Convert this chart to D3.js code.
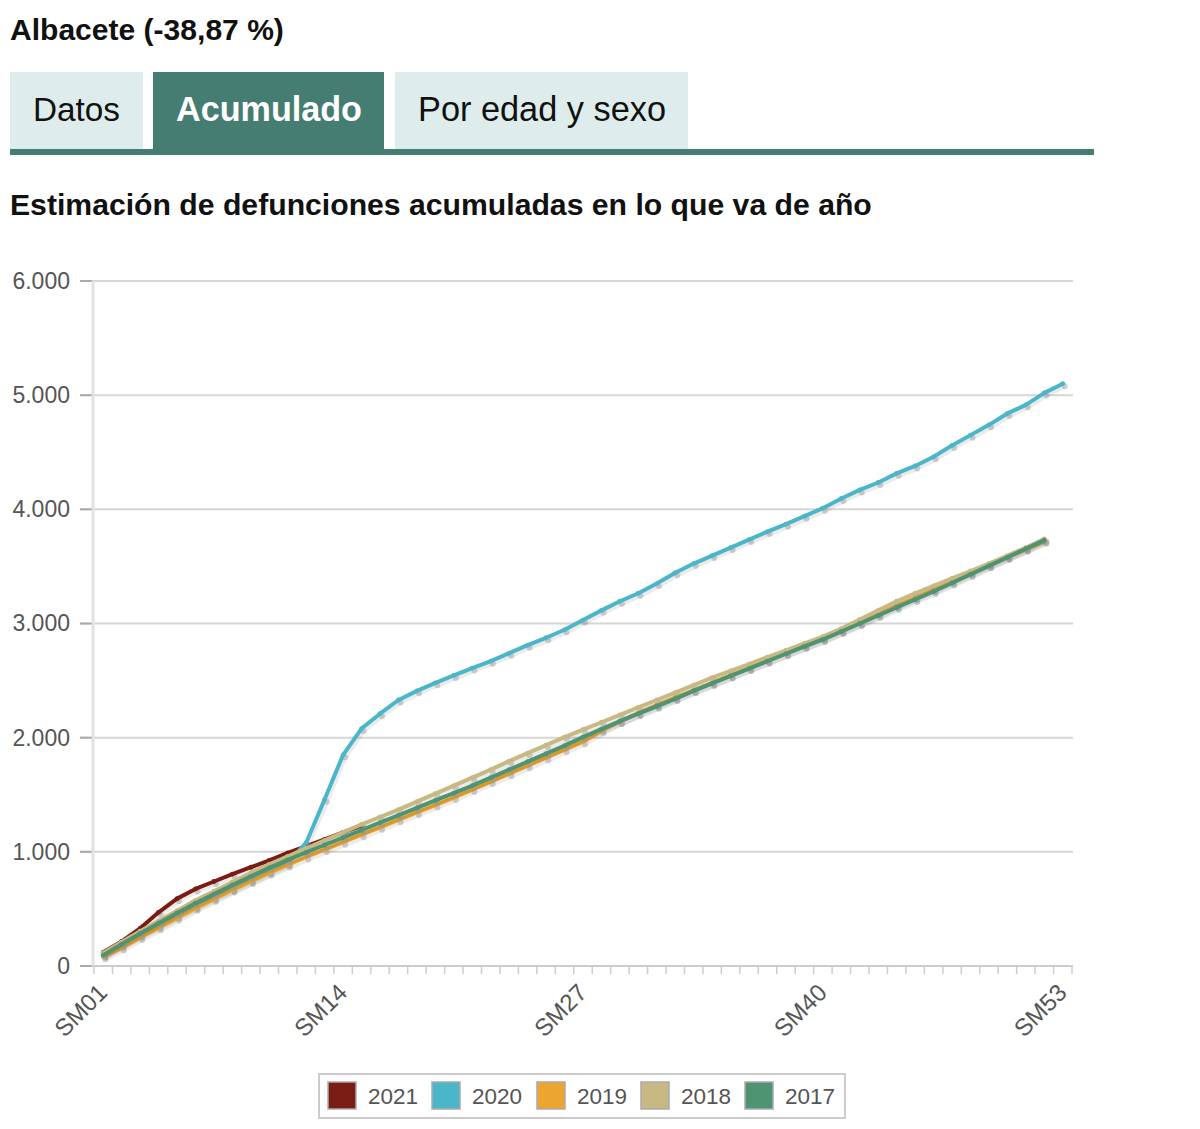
<!DOCTYPE html>
<html><head><meta charset="utf-8">
<script src="https://cdn.jsdelivr.net/npm/d3@7"></script>
<style>body{margin:0;background:#fff}svg{display:block}</style>
</head><body>
<svg id="c" width="1200" height="1129"></svg>
<script>
// ---------- data ----------
const weeks = d3.range(1, 54).map(i => "SM" + String(i).padStart(2, "0"));
const xTickLabels = ["SM01", "SM14", "SM27", "SM40", "SM53"];
const yTickValues = [0, 1000, 2000, 3000, 4000, 5000, 6000];
const years = ["2021", "2020", "2019", "2018", "2017"];
const yearColors = ["#7a1c14", "#4bb6c9", "#eca531", "#c8b882", "#4f9472"];

const values2021 = [120, 215, 330, 470, 590, 675, 740, 805, 865, 925, 990, 1050, 1110, 1170, 1230];
const values2020 = [100, 185, 270, 355, 440, 520, 600, 675, 750, 825, 900, 1080, 1460, 1850, 2080, 2210, 2330, 2410, 2480, 2545,
  2610, 2670, 2740, 2810, 2875, 2945, 3030, 3115, 3195, 3265, 3350, 3445, 3525, 3595, 3665, 3735, 3805, 3870, 3940, 4010,
  4095, 4170, 4235, 4315, 4380, 4460, 4560, 4650, 4740, 4840, 4915, 5020, 5100];
const values2019 = [80, 160, 250, 335, 420, 505, 585, 665, 740, 815, 885, 955, 1020, 1085, 1150, 1215, 1280, 1345, 1410, 1475,
  1545, 1615, 1685, 1755, 1825, 1895, 1965, 2060, 2140, 2215, 2285, 2350, 2415, 2480, 2545, 2610, 2675, 2740, 2800, 2865,
  2935, 3005, 3080, 3155, 3225, 3295, 3365, 3440, 3510, 3580, 3650, 3720];
const values2018 = [115, 210, 305, 395, 485, 575, 655, 735, 815, 890, 960, 1030, 1100, 1170, 1240, 1305, 1370, 1440, 1510, 1580,
  1650, 1720, 1795, 1865, 1935, 2005, 2070, 2135, 2200, 2265, 2330, 2395, 2460, 2525, 2585, 2645, 2705, 2765, 2825, 2885,
  2955, 3035, 3115, 3195, 3265, 3330, 3395, 3460, 3525, 3595, 3665, 3740];
const values2017 = [95, 190, 285, 375, 465, 550, 630, 710, 785, 860, 930, 995, 1060, 1125, 1190, 1255, 1320, 1385, 1450, 1515,
  1580, 1650, 1720, 1790, 1860, 1930, 2005, 2075, 2145, 2210, 2275, 2340, 2410, 2475, 2540, 2605, 2670, 2735, 2800, 2860,
  2930, 3000, 3070, 3140, 3210, 3280, 3355, 3430, 3505, 3580, 3655, 3730];
const seriesValues = [values2021, values2020, values2019, values2018, values2017];

// ---------- drawing ----------
const svg = d3.select("#c");
const FONT = "'Liberation Sans', Arial, Helvetica, sans-serif";
function fit(t, w) {
  const l = t.node().getComputedTextLength();
  const fs = parseFloat(t.attr("font-size"));
  t.attr("font-size", (fs * w / l).toFixed(2));
  return t;
}

// header
fit(svg.append("text").attr("x", 10).attr("y", 40).attr("font-family", FONT).attr("font-weight", "bold")
  .attr("font-size", 28).attr("fill", "#111").text("Albacete (-38,87 %)"), 274);

const tabs = [
  { label: "Datos", x: 10, w: 133, tx: 33, tw: 87, active: false },
  { label: "Acumulado", x: 153, w: 231, tx: 176, tw: 186, active: true },
  { label: "Por edad y sexo", x: 395, w: 293, tx: 418, tw: 248, active: false }
];
tabs.forEach(t => {
  svg.append("rect").attr("x", t.x).attr("y", 72).attr("width", t.w).attr("height", 80)
    .attr("fill", t.active ? "#467d72" : "#deedeb");
  const tt = svg.append("text").attr("x", t.tx).attr("y", 121).attr("font-family", FONT)
    .attr("font-weight", t.active ? "bold" : "normal").attr("font-size", 33)
    .attr("fill", t.active ? "#fff" : "#111").text(t.label);
  fit(tt, t.tw);
});
svg.append("rect").attr("x", 10).attr("y", 149).attr("width", 1084).attr("height", 6).attr("fill", "#467d72");

fit(svg.append("text").attr("x", 10).attr("y", 215).attr("font-family", FONT).attr("font-weight", "bold")
  .attr("font-size", 26).attr("fill", "#111").text("Estimación de defunciones acumuladas en lo que va de año"), 862);

// scales
const x = d3.scalePoint().domain(weeks).range([94, 1072]).padding(0.5);
const y = d3.scaleLinear().domain([0, 6000]).range([966, 281]);
const locale = d3.formatLocale({ decimal: ",", thousands: ".", grouping: [3], currency: ["", "€"] });
const fmt = locale.format(",d");

// gridlines + y labels
const yAxis = d3.axisLeft(y).tickValues(yTickValues).tickFormat(fmt).tickSize(0).tickPadding(10);
const gy = svg.append("g").attr("transform", "translate(80,0)").call(yAxis);
gy.select(".domain").remove();
gy.selectAll("text").attr("font-family", FONT).attr("font-size", 23).attr("fill", "#555");
svg.append("g").selectAll("line").data(yTickValues).join("line")
  .attr("x1", 80).attr("x2", 1073).attr("y1", d => y(d)).attr("y2", d => y(d))
  .attr("stroke", "#d6d6d6").attr("stroke-width", 2);
svg.append("g").selectAll("line").data(yTickValues).join("line")
  .attr("x1", 80).attr("x2", 92).attr("y1", d => y(d)).attr("y2", d => y(d))
  .attr("stroke", "#aaa").attr("stroke-width", 2);
// y axis line
svg.append("line").attr("x1", 93).attr("x2", 93).attr("y1", 281).attr("y2", 966)
  .attr("stroke", "#e2e2e2").attr("stroke-width", 3);

// x axis
const step = x.step();
const boundaries = d3.range(0, weeks.length + 1).map(i => x(weeks[0]) - step / 2 + i * step);
svg.append("line").attr("x1", 92).attr("x2", 1073).attr("y1", 966).attr("y2", 966)
  .attr("stroke", "#ccc").attr("stroke-width", 2);
svg.append("g").selectAll("line").data(boundaries).join("line")
  .attr("x1", d => d).attr("x2", d => d).attr("y1", 966).attr("y2", 974)
  .attr("stroke", "#ccc").attr("stroke-width", 1.5);
const xAxis = d3.axisBottom(x).tickValues(xTickLabels).tickSize(0);
const gx = svg.append("g").attr("transform", "translate(0,966)").call(xAxis);
gx.select(".domain").remove();
gx.selectAll("text").attr("font-family", FONT).attr("font-size", 24).attr("fill", "#555")
  .attr("text-anchor", "end").attr("dy", 0).attr("y", 0)
  .attr("transform", "translate(5,28) rotate(-45)");

// series
const line = d3.line().x((d, i) => x(weeks[i])).y(d => y(d));
const gs = svg.append("g");
seriesValues.forEach((vals, si) => {
  const g = gs.append("g");
  g.append("path").attr("d", line(vals)).attr("fill", "none").attr("stroke", "#000")
    .attr("stroke-opacity", 0.08).attr("stroke-width", 6).attr("transform", "translate(1.5,2)");
  g.selectAll("circle.sh").data(vals).join("circle").attr("class", "sh")
    .attr("cx", (d, i) => x(weeks[i]) + 2).attr("cy", d => y(d) + 2.5).attr("r", 3)
    .attr("fill", "#999").attr("fill-opacity", 0.45);
  g.append("path").attr("d", line(vals)).attr("fill", "none").attr("stroke", yearColors[si])
    .attr("stroke-width", 4).attr("stroke-linejoin", "round");
  g.selectAll("circle.mk").data(vals).join("circle").attr("class", "mk")
    .attr("cx", (d, i) => x(weeks[i])).attr("cy", d => y(d)).attr("r", 2.4)
    .attr("fill", yearColors[si]);
});

// legend
svg.append("rect").attr("x", 319).attr("y", 1074).attr("width", 526).attr("height", 44)
  .attr("fill", "#fff").attr("stroke", "#ccc").attr("stroke-width", 2);
const legX = [328, 432, 537, 641, 745];
years.forEach((yr, i) => {
  svg.append("rect").attr("x", legX[i]).attr("y", 1082).attr("width", 28).attr("height", 27)
    .attr("fill", yearColors[i]).attr("stroke", "#aaa").attr("stroke-width", 1.5);
  fit(svg.append("text").attr("x", legX[i] + 40).attr("y", 1104).attr("font-family", FONT)
    .attr("font-size", 22).attr("fill", "#555").text(yr), 50);
});
</script>
</body></html>
